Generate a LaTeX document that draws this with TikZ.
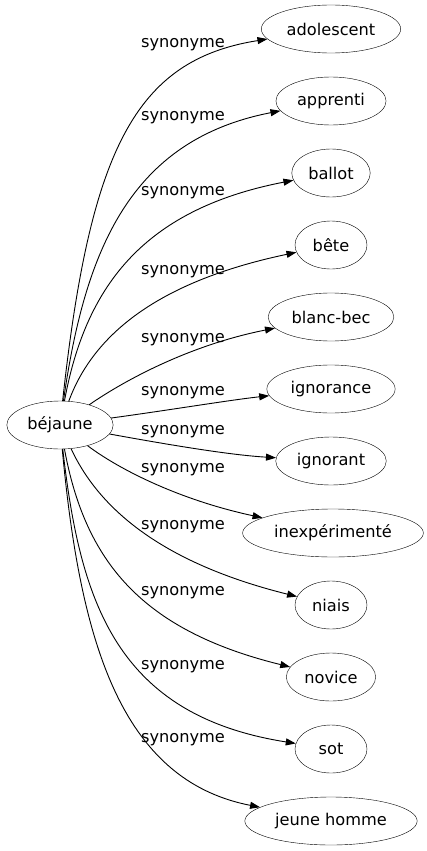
\documentclass[tikz,border=0pt]{standalone}
\usepackage{fontspec}
\setmainfont{DejaVu Sans}
\usetikzlibrary{shapes.geometric,arrows.meta}
\begin{document}
\begin{tikzpicture}[x=1pt,y=-1pt,
  font=\fontsize{16.2}{19}\selectfont,
  word/.style={draw, ellipse, minimum width=72pt, minimum height=48pt,
    inner xsep=5pt, inner ysep=0pt},
  syn/.style={inner sep=0pt},
  link/.style={-{Triangle[length=10pt,width=7pt]}, line width=0.9pt}]
\useasboundingbox (0,0) rectangle (427,851);
% mot principal
\node[word] (bejaune) at (60,425) {béjaune};
% synonymes
\node[word] (adolescent) at (331,29) {adolescent};
\node[word] (apprenti) at (331,101) {apprenti};
\node[word] (ballot) at (331,173) {ballot};
\node[word] (bete) at (331,245) {bête};
\node[word] (blancbec) at (331,317) {blanc-bec};
\node[word] (ignorance) at (331,389) {ignorance};
\node[word] (ignorant) at (331,461) {ignorant};
\node[word] (inexperimente) at (333,533) {inexpérimenté};
\node[word] (niais) at (331,605) {niais};
\node[word] (novice) at (331,677) {novice};
\node[word] (sot) at (331,749) {sot};
\node[word] (jeunehomme) at (331,821) {jeune homme};
% etiquettes des aretes
\node[syn] (s1) at (183,45) {synonyme};
\node[syn] (s2) at (183,118) {synonyme};
\node[syn] (s3) at (183,193) {synonyme};
\node[syn] (s4) at (183,272) {synonyme};
\node[syn] (s5) at (183,340) {synonyme};
\node[syn] (s6) at (183,393) {synonyme};
\node[syn] (s7) at (183,432) {synonyme};
\node[syn] (s8) at (183,470) {synonyme};
\node[syn] (s9) at (183,527) {synonyme};
\node[syn] (s10) at (183,593) {synonyme};
\node[syn] (s11) at (183,667) {synonyme};
\node[syn] (s12) at (183,740) {synonyme};
% aretes
\draw[link] (bejaune) .. controls (90,150) and (135,60) .. (adolescent);
\draw[link] (bejaune) .. controls (85,250) and (130,140) .. (apprenti);
\draw[link] (bejaune) .. controls (85,290) and (140,210) .. (ballot);
\draw[link] (bejaune) .. controls (95,330) and (165,280) .. (bete);
\draw[link] (bejaune) .. controls (125,380) and (190,345) .. (blancbec);
\draw[link] (bejaune) .. controls (170,410) and (230,400) .. (ignorance);
\draw[link] (bejaune) .. controls (170,445) and (230,455) .. (ignorant);
\draw[link] (bejaune) .. controls (120,470) and (180,500) .. (inexperimente);
\draw[link] (bejaune) .. controls (95,500) and (150,560) .. (niais);
\draw[link] (bejaune) .. controls (85,560) and (140,630) .. (novice);
\draw[link] (bejaune) .. controls (80,600) and (115,715) .. (sot);
\draw[link] (bejaune) .. controls (80,640) and (120,780) .. (jeunehomme);
\end{tikzpicture}
\end{document}
